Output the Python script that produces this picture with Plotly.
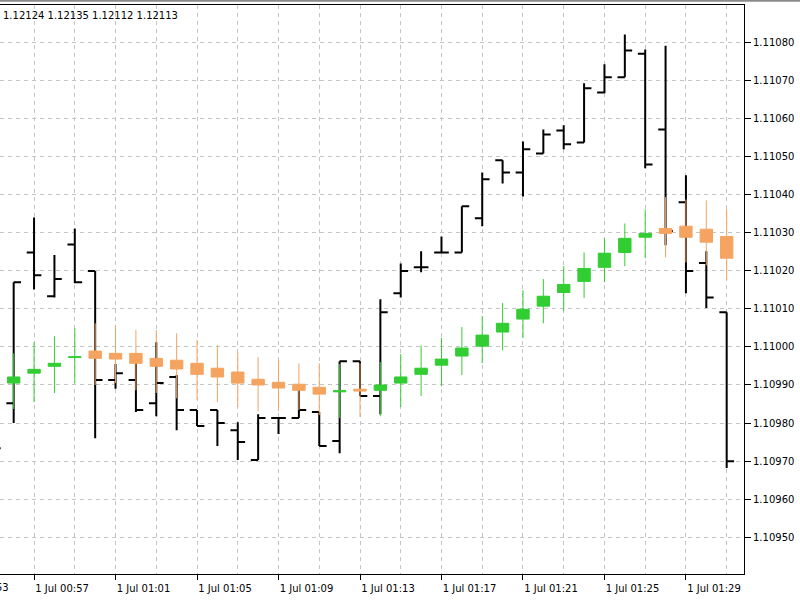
import plotly.graph_objects as go
from datetime import datetime

# ---- data ----
times = ["2019-07-01 00:55", "2019-07-01 00:56", "2019-07-01 00:57", "2019-07-01 00:58",
         "2019-07-01 00:59", "2019-07-01 01:00", "2019-07-01 01:01", "2019-07-01 01:02",
         "2019-07-01 01:03", "2019-07-01 01:04", "2019-07-01 01:05", "2019-07-01 01:06",
         "2019-07-01 01:07", "2019-07-01 01:08", "2019-07-01 01:09", "2019-07-01 01:10",
         "2019-07-01 01:11", "2019-07-01 01:12", "2019-07-01 01:13", "2019-07-01 01:14",
         "2019-07-01 01:15", "2019-07-01 01:16", "2019-07-01 01:17", "2019-07-01 01:18",
         "2019-07-01 01:19", "2019-07-01 01:20", "2019-07-01 01:21", "2019-07-01 01:22",
         "2019-07-01 01:23", "2019-07-01 01:24", "2019-07-01 01:25", "2019-07-01 01:26",
         "2019-07-01 01:27", "2019-07-01 01:28", "2019-07-01 01:29", "2019-07-01 01:30",
         "2019-07-01 01:31"]

# black OHLC bars
bar_open = [1.109755, 1.109852, 1.110248, 1.110133, 1.110269, 1.110199, 1.109913, 1.109913,
            1.109852, 1.109921, 1.109834, 1.109834, 1.109781, 1.109703, 1.109813, 1.109813,
            1.109829, 1.109753, 1.109962, 1.109871, 1.110141, 1.110209, 1.110248, 1.110248,
            1.110338, 1.110490, 1.110458, 1.110508, 1.110568, 1.110537, 1.110668, 1.110708,
            1.110770, 1.110571, 1.110380, 1.110220, 1.110091]
bar_high = [1.109781, 1.110170, 1.110340, 1.110241, 1.110311, 1.110199, 1.109955, 1.109957,
            1.110012, 1.109926, 1.109834, 1.109834, 1.109802, 1.109823, 1.109813, 1.109892,
            1.109829, 1.109962, 1.109962, 1.110125, 1.110219, 1.110251, 1.110290, 1.110369,
            1.110458, 1.110490, 1.110539, 1.110571, 1.110582, 1.110692, 1.110742, 1.110820,
            1.110781, 1.110791, 1.110451, 1.110251, 1.110091]
bar_low = [1.109724, 1.109800, 1.110151, 1.110130, 1.110167, 1.109760, 1.109890, 1.109829,
           1.109818, 1.109781, 1.109792, 1.109740, 1.109703, 1.109703, 1.109771, 1.109813,
           1.109740, 1.109721, 1.109871, 1.109823, 1.110130, 1.110196, 1.110248, 1.110248,
           1.110317, 1.110429, 1.110395, 1.110508, 1.110519, 1.110537, 1.110666, 1.110708,
           1.110469, 1.110267, 1.110141, 1.110102, 1.109682]
bar_close = [1.109734, 1.110170, 1.110188, 1.110178, 1.110170, 1.109913, 1.109931, 1.109834,
             1.109905, 1.109834, 1.109792, 1.109800, 1.109750, 1.109813, 1.109813, 1.109834,
             1.109740, 1.109962, 1.109871, 1.110091, 1.110199, 1.110209, 1.110248, 1.110369,
             1.110440, 1.110458, 1.110519, 1.110558, 1.110532, 1.110679, 1.110708, 1.110778,
             1.110479, 1.110304, 1.110199, 1.110130, 1.109700]

# smoothed (Heiken Ashi style) candles
ha_open = [1.109921, 1.109905, 1.109931, 1.109949, 1.109972, 1.109989, 1.109983, 1.109983,
           1.109970, 1.109965, 1.109957, 1.109944, 1.109934, 1.109915, 1.109907, 1.109902,
           1.109894, 1.109882, 1.109889, 1.109886, 1.109905, 1.109928, 1.109952, 1.109976,
           1.110002, 1.110039, 1.110073, 1.110107, 1.110143, 1.110172, 1.110209, 1.110248,
           1.110288, 1.110311, 1.110317, 1.110309, 1.110290]
ha_high = [1.109978, 1.109983, 1.110012, 1.110028, 1.110049, 1.110062, 1.110057, 1.110044,
           1.110044, 1.110036, 1.110018, 1.110004, 1.109986, 1.109973, 1.109965, 1.109957,
           1.109957, 1.109955, 1.109957, 1.109960, 1.109981, 1.110004, 1.110023, 1.110052,
           1.110081, 1.110115, 1.110149, 1.110178, 1.110212, 1.110248, 1.110285, 1.110324,
           1.110361, 1.110393, 1.110387, 1.110385, 1.110361]
ha_low = [1.109847, 1.109837, 1.109855, 1.109879, 1.109905, 1.109900, 1.109905, 1.109886,
          1.109879, 1.109865, 1.109860, 1.109855, 1.109842, 1.109831, 1.109831, 1.109834,
          1.109821, 1.109813, 1.109816, 1.109818, 1.109842, 1.109871, 1.109897, 1.109926,
          1.109957, 1.109991, 1.110023, 1.110062, 1.110094, 1.110128, 1.110170, 1.110212,
          1.110233, 1.110235, 1.110222, 1.110214, 1.110175]
ha_close = [1.109902, 1.109921, 1.109941, 1.109957, 1.109974, 1.109970, 1.109968, 1.109957,
            1.109949, 1.109942, 1.109928, 1.109921, 1.109905, 1.109900, 1.109892, 1.109886,
            1.109876, 1.109885, 1.109884, 1.109900, 1.109921, 1.109944, 1.109968, 1.109997,
            1.110031, 1.110062, 1.110099, 1.110133, 1.110164, 1.110206, 1.110246, 1.110285,
            1.110298, 1.110298, 1.110288, 1.110275, 1.110233]

tick_times = ["2019-07-01 00:53", "2019-07-01 00:57", "2019-07-01 01:01", "2019-07-01 01:05",
              "2019-07-01 01:09", "2019-07-01 01:13", "2019-07-01 01:17", "2019-07-01 01:21",
              "2019-07-01 01:25", "2019-07-01 01:29"]
tick_labels = ["1 Jul 00:53", "1 Jul 00:57", "1 Jul 01:01", "1 Jul 01:05", "1 Jul 01:09",
               "1 Jul 01:13", "1 Jul 01:17", "1 Jul 01:21", "1 Jul 01:25", "1 Jul 01:29"]

header_text = "1.12124 1.12135 1.12112 1.12113"

x_range = ["2019-07-01 00:55:19.7", "2019-07-01 01:31:51"]
y_range = [1.1094037, 1.1108977]

FONT = "DejaVu Sans"
GRID = "#c4c4c4"

fig = go.Figure()

# black bars on the main axes
fig.add_trace(go.Ohlc(
    x=times, open=bar_open, high=bar_high, low=bar_low, close=bar_close,
    increasing=dict(line=dict(color="black", width=2)),
    decreasing=dict(line=dict(color="black", width=2)),
    tickwidth=0.36, showlegend=False, hoverinfo="skip",
))

# candles on an overlaid (identical) pair of axes so that they are drawn on top
fig.add_trace(go.Candlestick(
    x=times, open=ha_open, high=ha_high, low=ha_low, close=ha_close,
    increasing=dict(line=dict(color="#32CD32", width=1), fillcolor="#32CD32"),
    decreasing=dict(line=dict(color="#F4A460", width=1), fillcolor="#F4A460"),
    whiskerwidth=0, showlegend=False, hoverinfo="skip",
    xaxis="x2", yaxis="y2",
))

fmt = "%Y-%m-%d %H:%M"
fmt2 = "%Y-%m-%d %H:%M:%S.%f"
def _p(s):
    for f in (fmt2, "%Y-%m-%d %H:%M:%S", fmt):
        try:
            return datetime.strptime(s, f)
        except ValueError:
            pass
x0 = _p(x_range[0]); x1 = _p(x_range[1])
vis_vals, vis_text, annots = [], [], []
for tv, tt in zip(tick_times, tick_labels):
    t = _p(tv)
    if x0 <= t <= x1:
        vis_vals.append(tv); vis_text.append(tt)
    else:
        frac = (t - x0).total_seconds() / (x1 - x0).total_seconds()
        annots.append(dict(xref="paper", yref="paper", x=frac, y=0, xanchor="left",
                           yanchor="top", yshift=-6, xshift=0, text=tt, showarrow=False,
                           font=dict(family=FONT, size=10, color="black")))

annots.append(dict(xref="paper", yref="paper", x=0, y=1, xanchor="left", yanchor="top",
                   xshift=1, yshift=-3, text=header_text, showarrow=False,
                   font=dict(family=FONT, size=10, color="black")))

fig.update_layout(
    width=800, height=600,
    margin=dict(l=0, r=56, t=5, b=26),
    paper_bgcolor="white", plot_bgcolor="white",
    font=dict(family=FONT, size=10, color="black"),
    boxgap=0.24, boxgroupgap=0.2,
    annotations=annots,
    shapes=[dict(type="line", xref="paper", yref="paper", x0=0, x1=1.08,
                 y0=1.0075, y1=1.0075, line=dict(color="#8a8a8a", width=2))],
    xaxis=dict(
        type="date", range=x_range, rangeslider=dict(visible=False),
        tickvals=vis_vals, ticktext=vis_text, ticklabelshift=28,
        ticks="outside", ticklen=5, tickcolor="black", tickwidth=1,
        showline=True, linecolor="black", linewidth=1, mirror=True,
        showgrid=True, gridcolor=GRID, griddash="4px,4px", gridwidth=1,
        minor=dict(dtick=120000, tick0="2019-07-01 00:57", showgrid=True,
                   gridcolor=GRID, griddash="4px,4px", gridwidth=1, ticks=""),
        tickfont=dict(family=FONT, size=10, color="black"),
        zeroline=False, fixedrange=True,
    ),
    yaxis=dict(
        side="right", range=y_range, tick0=1.11, dtick=0.0001, tickformat=".5f",
        ticks="outside", ticklen=6, tickcolor="black", tickwidth=1,
        showline=True, linecolor="black", linewidth=1,
        showgrid=True, gridcolor=GRID, griddash="4px,4px", gridwidth=1,
        tickfont=dict(family=FONT, size=10, color="black"),
        zeroline=False, fixedrange=True,
    ),
    xaxis2=dict(type="date", range=x_range, overlaying="x", visible=False,
                rangeslider=dict(visible=False), showgrid=False, zeroline=False,
                fixedrange=True),
    yaxis2=dict(range=y_range, overlaying="y", visible=False, showgrid=False,
                zeroline=False, fixedrange=True),
)

fig.write_html("out.html")
